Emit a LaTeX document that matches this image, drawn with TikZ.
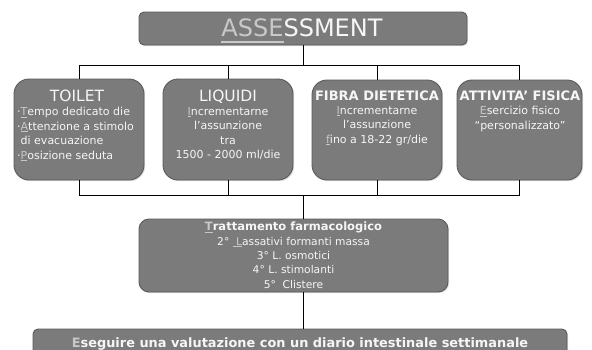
\documentclass[tikz,border=0pt]{standalone}
\usepackage{fontspec}
\setmainfont{DejaVu Sans}
\usetikzlibrary{shadows}
\definecolor{boxfill}{HTML}{7B7B7B}
\definecolor{boxedge}{HTML}{5A5A5A}
\definecolor{txt}{HTML}{F6F6F6}
\definecolor{ulc}{HTML}{C8C8C8}
\newcommand\ulet[1]{{\color{ulc}\underline{#1}}}
\newcommand\thickul[1]{{\color{ulc}\leavevmode\vtop{\hbox{#1}\kern4.5pt\hrule height 2.5pt}}}
\begin{document}
\begin{tikzpicture}[x=1pt,y=-1pt,
  panel/.style={draw=boxedge, line width=0.9pt, fill=boxfill, rounded corners=#1,
    inner sep=0pt, drop shadow={shadow xshift=1.2pt, shadow yshift=-1.2pt, opacity=0.25}},
  wire/.style={draw=black, line width=0.8pt},
  txtnode/.style={text=txt, inner sep=0pt},
  body/.style={txtnode, font=\fontsize{11}{14.5}\selectfont},
  head/.style={txtnode, font=\fontsize{15.5}{17}\selectfont},
  bhead/.style={txtnode, font=\fontsize{13}{15}\selectfont\bfseries}]
\useasboundingbox (0,0) rectangle (592,349);
\clip (0,0) rectangle (592,349);
\fill[white] (0,0) rectangle (592,349);

% boxes
\node[panel=5pt, minimum width=328pt, minimum height=33pt] (title) at (303,28.5) {};
\node[panel=15pt, minimum width=130pt, minimum height=101pt] (toilet) at (79,129.5) {};
\node[panel=15pt, minimum width=130pt, minimum height=101pt] (liquidi) at (228,129.5) {};
\node[panel=15pt, minimum width=130pt, minimum height=100pt] (fibra) at (377,130) {};
\node[panel=15pt, minimum width=125pt, minimum height=100pt] (attivita) at (519.5,130) {};
\node[panel=10pt, minimum width=309pt, minimum height=73pt] (farm) at (293.5,255.5) {};
\node[panel=5pt, minimum width=534pt, minimum height=36pt] (final) at (300,347) {};

% connectors
\coordinate (busT) at (303,65);
\coordinate (busB) at (303,195);
\draw[wire] (title.south -| busT) -- (busT);
\draw[wire] (toilet.north |- busT) -- (attivita.north |- busT);
\draw[wire] (toilet.north |- busT) -- (toilet.north);
\draw[wire] (liquidi.north |- busT) -- (liquidi.north);
\draw[wire] (fibra.north |- busT) -- (fibra.north);
\draw[wire] (attivita.north |- busT) -- (attivita.north);
\draw[wire] (toilet.south |- busB) -- (attivita.south |- busB);
\draw[wire] (toilet.south) -- (toilet.south |- busB);
\draw[wire] (liquidi.south) -- (liquidi.south |- busB);
\draw[wire] (fibra.south) -- (fibra.south |- busB);
\draw[wire] (attivita.south) -- (attivita.south |- busB);
\draw[wire] (busB) -- (farm.north -| busB);
\draw[wire] (farm.south -| busB) -- (final.north -| busB);

% texts
\node[txtnode, font=\fontsize{24}{26}\selectfont, anchor=base] (ttl) at (302,36) {\thickul{ASSE}SSMENT};

\node[head, anchor=base] (toilet-h) at (77,101.5) {TOILET};
\node[body, anchor=north west, align=left] (toilet-b) at (17,107)
  {·\ulet{T}empo dedicato die\\·\ulet{A}ttenzione a stimolo\\\ di evacuazione\\·\ulet{P}osizione seduta};

\node[head, anchor=base] (liquidi-h) at (228,101.5) {LIQUIDI};
\node[body, anchor=north, align=center] (liquidi-b) at (228,107)
  {\ulet{I}ncrementarne\\l’assunzione\\tra\\1500 - 2000 ml/die};

\node[bhead, anchor=base] (fibra-h) at (377,100) {FIBRA DIETETICA};
\node[body, anchor=north, align=center] (fibra-b) at (377,106)
  {\ulet{I}ncrementarne\\l'assunzione\\\ulet{f}ino a 18-22 gr/die};

\node[bhead, anchor=base] (attivita-h) at (520,100) {ATTIVITA’ FISICA};
\node[body, anchor=north, align=center] (attivita-b) at (520,106)
  {\ulet{E}sercizio fisico\\“personalizzato”};

\node[txtnode, font=\fontsize{10.7}{14.3}\selectfont, anchor=north, align=center] (farm-t) at (293.5,222)
  {{\fontsize{11.5}{14.3}\selectfont\bfseries \ulet{T}rattamento farmacologico}\\2° \ulet{\ L}assativi formanti massa\\3° L. osmotici\\4° L. stimolanti\\5°\ \ Clistere};

\node[txtnode, font=\fontsize{12.9}{14}\selectfont\bfseries, anchor=base] (final-t) at (300,347)
  {{\color{ulc}E}seguire una valutazione con un diario intestinale settimanale};
\end{tikzpicture}
\end{document}
